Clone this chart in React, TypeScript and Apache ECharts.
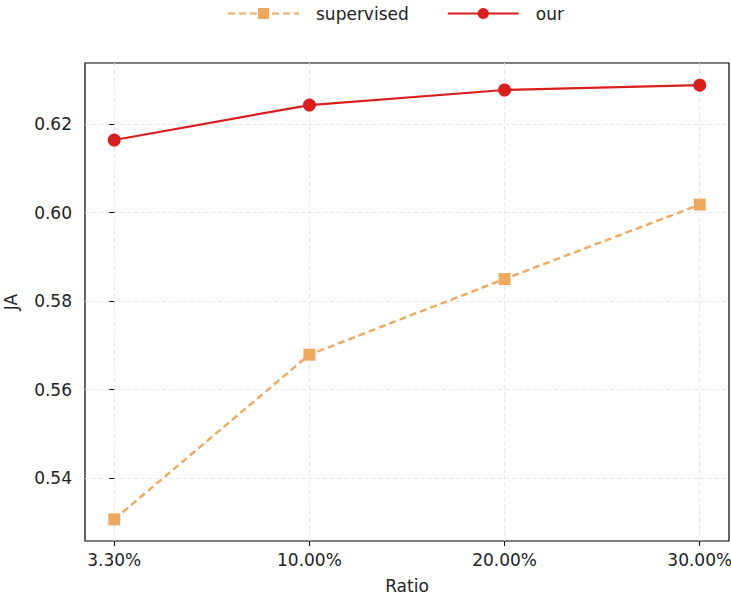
import React, { useEffect, useRef } from "react";
import * as echarts from "echarts";

const categories = ["3.30%", "10.00%", "20.00%", "30.00%"];
const supervised = [0.5307, 0.5679, 0.585, 0.6018];
const our = [0.6164, 0.6243, 0.6277, 0.6288];
const yTicks = [0.54, 0.56, 0.58, 0.6, 0.62];
const xTicks = [0, 1, 2, 3];

const FONT = "DejaVu Sans";

export default function App() {
  const ref = useRef<HTMLDivElement>(null);
  useEffect(() => {
    if (!ref.current) return;
    const chart = echarts.init(ref.current, undefined, { renderer: "svg" });
    const option: any = {
      animation: false,
      backgroundColor: "#ffffff",
      textStyle: { fontFamily: FONT },
      legend: {
        top: 0,
        left: 222,
        itemWidth: 71,
        itemHeight: 14,
        itemGap: 38,
        textStyle: { fontFamily: FONT, fontSize: 17, color: "#222", padding: [0, 0, 0, 12] },
        data: ["supervised", "our"],
      },
      grid: {
        left: 85,
        right: 2,
        top: 63,
        bottom: 55,
        show: true,
        borderColor: "#000",
        borderWidth: 1.2,
        backgroundColor: "transparent",
        containLabel: false,
        outerBoundsMode: "none",
      },
      xAxis: {
        type: "value",
        min: -0.15,
        max: 3.15,
        name: "Ratio",
        nameLocation: "middle",
        nameGap: 36,
        nameTextStyle: { fontFamily: FONT, fontSize: 17, color: "#222" },
        axisLine: { show: false },
        axisTick: { show: true, customValues: xTicks, length: 5, lineStyle: { color: "#000" } },
        axisLabel: {
          customValues: xTicks,
          formatter: (v: number) => categories[Math.round(v)] ?? "",
          fontFamily: FONT,
          fontSize: 17,
          color: "#222",
          margin: 10,
        },
        splitLine: { show: true, lineStyle: { color: "#e6e6e6", type: [4, 3], width: 1 } },
      },
      yAxis: {
        type: "value",
        min: 0.5258,
        max: 0.6338,
        name: "JA",
        nameLocation: "middle",
        nameGap: 66,
        nameTextStyle: { fontFamily: FONT, fontSize: 17, color: "#222" },
        axisLine: { show: false },
        axisTick: { show: true, customValues: yTicks, length: 5, lineStyle: { color: "#000" } },
        axisLabel: {
          customValues: yTicks,
          formatter: (v: number) => v.toFixed(2),
          fontFamily: FONT,
          fontSize: 17,
          color: "#222",
          margin: 13,
        },
        splitLine: { show: true, lineStyle: { color: "#e6e6e6", type: [4, 3], width: 1 } },
      },
      series: [
        {
          name: "supervised",
          type: "line",
          data: supervised.map((v, i) => [xTicks[i], v]),
          symbol: "rect",
          symbolSize: 12,
          itemStyle: { color: "#EDA95F" },
          lineStyle: { color: "#EDA95F", width: 2.4, type: [7, 4] },
        },
        {
          name: "our",
          type: "line",
          data: our.map((v, i) => [xTicks[i], v]),
          symbol: "circle",
          symbolSize: 13,
          itemStyle: { color: "#D91E1E" },
          lineStyle: { color: "#D91E1E", width: 2.2 },
        },
      ],
    };
    chart.setOption(option);
    return () => chart.dispose();
  }, []);
  return (
    <div
      ref={ref}
      style={{ position: "fixed", left: 0, top: 0, width: 731, height: 596 }}
    />
  );
}
